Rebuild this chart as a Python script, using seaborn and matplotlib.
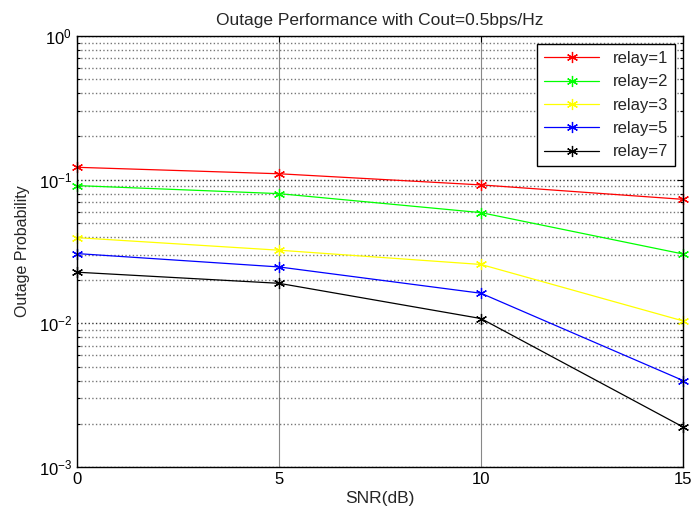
import numpy as np
import pandas as pd
import matplotlib
matplotlib.use("Agg")
import matplotlib.pyplot as plt
import seaborn as sns

# ---- data ----
snr = [0, 5, 10, 15]
relay_1 = [0.122, 0.110, 0.092, 0.073]
relay_2 = [0.091, 0.080, 0.059, 0.0304]
relay_3 = [0.0395, 0.0323, 0.0257, 0.0104]
relay_5 = [0.0306, 0.0247, 0.0162, 0.0040]
relay_7 = [0.0227, 0.0190, 0.0108, 0.0019]

labels = ["relay=1", "relay=2", "relay=3", "relay=5", "relay=7"]
colors = ["#ff0000", "#00ff00", "#ffff00", "#0000ff", "#000000"]
series = [relay_1, relay_2, relay_3, relay_5, relay_7]

sns.set_style("white")
plt.rcParams["font.family"] = ["Liberation Sans", "DejaVu Sans"]
plt.rcParams["mathtext.default"] = "regular"

fig = plt.figure(figsize=(6.91, 5.13), dpi=100)
ax = fig.add_axes([0.1114, 0.0897, 0.877, 0.840])

# one call per curve so the asterisk markers keep the line colour
for lab, vals, c in zip(labels, series, colors):
    sns.lineplot(x=snr, y=vals, color=c, label=lab, marker=(6, 2, 0),
                 markersize=8, markeredgewidth=0.9, markeredgecolor=c,
                 linewidth=0.9, ax=ax, clip_on=False)

ax.set_yscale("log")
ax.set_xlim(0, 15)
ax.set_ylim(1e-3, 1)
ax.set_xticks([0, 5, 10, 15])

ax.grid(True, which="major", axis="x", color="#888888", linewidth=0.8)
ax.grid(True, which="major", axis="y", color="#333333", linestyle=":", linewidth=1.0)
ax.grid(True, which="minor", axis="y", color="#777777", linestyle=":", linewidth=1.0)

ax.tick_params(which="both", direction="in", top=True, right=True,
               labelsize=12, colors="black")
ax.tick_params(which="major", length=4, width=0.8)
ax.tick_params(which="minor", length=2.5, width=0.8, left=True, right=True)
for s in ax.spines.values():
    s.set_visible(True)
    s.set_color("black")
    s.set_linewidth(1.0)

ax.set_title("Outage Performance with Cout=0.5bps/Hz", fontsize=12.5, pad=8)
ax.set_xlabel("SNR(dB)", fontsize=12.5, labelpad=3)
ax.set_ylabel("Outage Probability", fontsize=11.5, labelpad=6)

leg = ax.legend(loc="upper right", fancybox=False, framealpha=1,
                edgecolor="black", fontsize=12, handlelength=3.3,
                labelspacing=0.5, borderaxespad=0.5, borderpad=0.4)
leg.get_frame().set_linewidth(1.0)

fig.savefig("out.png", dpi=100)
